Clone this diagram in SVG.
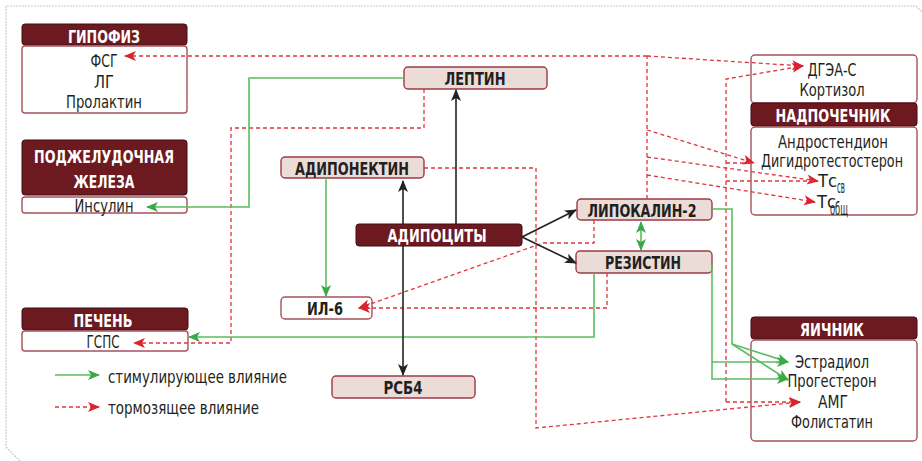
<svg xmlns="http://www.w3.org/2000/svg" width="922" height="461" viewBox="0 0 922 461">
<style>
.frame{fill:none;stroke:#b8b8b8;stroke-width:1.2;stroke-dasharray:1.5 1.5}
.hd{fill:#6c1a20;stroke:#3e0f12;stroke-width:1}
.bd{fill:#fff;stroke:#a5535b;stroke-width:1.4}
.nd{fill:#ebdcd8;stroke:#9b3a44;stroke-width:1.4}
.ht{font-family:'DejaVu Sans Condensed','Liberation Sans',sans-serif;font-weight:bold;font-size:18px;fill:#fff;text-anchor:middle}
.nt{font-family:'DejaVu Sans Condensed','Liberation Sans',sans-serif;font-weight:bold;font-size:18px;fill:#231f20;text-anchor:middle}
.tt{font-family:'DejaVu Sans Condensed','Liberation Sans',sans-serif;font-size:17px;fill:#231f20;text-anchor:middle}
.lt{font-family:'DejaVu Sans Condensed','Liberation Sans',sans-serif;font-size:17px;fill:#231f20}
.bk{fill:none;stroke:#222;stroke-width:1.6}
.gr{fill:none;stroke:#5cbd60;stroke-width:1.6}
.rd{fill:none;stroke:#e0343c;stroke-width:1.3;stroke-dasharray:4 3}
</style>
<defs>
<marker id="ab" viewBox="0 0 12 10" refX="11" refY="5" markerWidth="12" markerHeight="10" markerUnits="userSpaceOnUse" orient="auto-start-reverse"><path d="M0,0 L12,5 L0,10 L3,5 z" fill="#222"/></marker>
<marker id="ag" viewBox="0 0 12 10" refX="11" refY="5" markerWidth="13" markerHeight="10" markerUnits="userSpaceOnUse" orient="auto-start-reverse"><path d="M0,0 L12,5 L0,10 L3,5 z" fill="#3aaa48"/></marker>
<marker id="ar" viewBox="0 0 12 10" refX="11" refY="5" markerWidth="13" markerHeight="10" markerUnits="userSpaceOnUse" orient="auto-start-reverse"><path d="M0,0 L12,5 L0,10 L3,5 z" fill="#d9242d"/></marker>
</defs>
<path class="frame" d="M20,461 L6,447 L6,6 L916,6 L922,12"/>

<g id="gipofiz">
<rect class="hd" x="22" y="24" width="165" height="21" rx="3"/>
<rect class="bd" x="22" y="46" width="165" height="67" rx="3"/>
<text class="ht" x="104" y="43" textLength="72" lengthAdjust="spacingAndGlyphs">ГИПОФИЗ</text>
<text class="tt" x="104" y="67" textLength="27" lengthAdjust="spacingAndGlyphs">ФСГ</text>
<text class="tt" x="104" y="88" textLength="20" lengthAdjust="spacingAndGlyphs">ЛГ</text>
<text class="tt" x="104" y="108" textLength="76" lengthAdjust="spacingAndGlyphs">Пролактин</text>
</g>

<g id="pancreas">
<rect class="hd" x="22" y="140" width="165" height="55" rx="3"/>
<rect class="bd" x="22" y="197" width="165" height="16" rx="3"/>
<text class="ht" x="104" y="163" textLength="140" lengthAdjust="spacingAndGlyphs">ПОДЖЕЛУДОЧНАЯ</text>
<text class="ht" x="104" y="188" textLength="61" lengthAdjust="spacingAndGlyphs">ЖЕЛЕЗА</text>
<text class="tt" x="104" y="212" textLength="59" lengthAdjust="spacingAndGlyphs">Инсулин</text>
</g>

<g id="liver">
<rect class="hd" x="22" y="308" width="166" height="22" rx="3"/>
<rect class="bd" x="22" y="331" width="166" height="20" rx="3"/>
<text class="ht" x="103" y="327" textLength="59" lengthAdjust="spacingAndGlyphs">ПЕЧЕНЬ</text>
<text class="tt" x="103" y="348" textLength="33" lengthAdjust="spacingAndGlyphs">ГСПС</text>
</g>

<g id="legend">
<text class="lt" x="108" y="383" textLength="179" lengthAdjust="spacingAndGlyphs">стимулирующее влияние</text>
<text class="lt" x="108" y="414" textLength="151" lengthAdjust="spacingAndGlyphs">тормозящее влияние</text>
</g>

<g id="leptin">
<rect class="nd" x="404" y="67" width="143" height="22" rx="4"/>
<text class="nt" x="475" y="85" textLength="61" lengthAdjust="spacingAndGlyphs">ЛЕПТИН</text>
</g>

<g id="adiponectin">
<rect class="nd" x="281" y="157" width="143" height="21" rx="4"/>
<text class="nt" x="352" y="175" textLength="114" lengthAdjust="spacingAndGlyphs">АДИПОНЕКТИН</text>
</g>

<g id="adipocytes">
<rect class="hd" x="356" y="224" width="166" height="22" rx="3"/>
<text class="ht" x="437" y="242" textLength="99" lengthAdjust="spacingAndGlyphs">АДИПОЦИТЫ</text>
</g>

<g id="lipocalin">
<rect class="nd" x="577" y="199" width="135" height="21" rx="4"/>
<text class="nt" x="642" y="217" textLength="109" lengthAdjust="spacingAndGlyphs">ЛИПОКАЛИН-2</text>
</g>

<g id="resistin">
<rect class="nd" x="576" y="251" width="136" height="22" rx="4"/>
<text class="nt" x="643" y="269" textLength="76" lengthAdjust="spacingAndGlyphs">РЕЗИСТИН</text>
</g>

<g id="il6">
<rect class="bd" x="281" y="297" width="91" height="22" rx="4"/>
<text class="nt" x="325" y="315" textLength="36" lengthAdjust="spacingAndGlyphs">ИЛ-6</text>
</g>

<g id="rsb4">
<rect class="nd" x="332" y="376" width="143" height="22" rx="4"/>
<text class="nt" x="403" y="394" textLength="39" lengthAdjust="spacingAndGlyphs">РСБ4</text>
</g>

<g id="adrenal">
<rect class="bd" x="751" y="55" width="166" height="48" rx="4"/>
<rect class="hd" x="751" y="103" width="166" height="23" rx="3"/>
<rect class="bd" x="751" y="127" width="166" height="88" rx="4"/>
<text class="tt" x="832" y="76" font-size="16" textLength="49" lengthAdjust="spacingAndGlyphs">ДГЭА-С</text>
<text class="tt" x="832" y="96" font-size="16" textLength="65" lengthAdjust="spacingAndGlyphs">Кортизол</text>
<text class="ht" x="833" y="122" textLength="115" lengthAdjust="spacingAndGlyphs">НАДПОЧЕЧНИК</text>
<text class="tt" x="833" y="148" textLength="110" lengthAdjust="spacingAndGlyphs">Андростендион</text>
<text class="tt" x="832" y="167" textLength="142" lengthAdjust="spacingAndGlyphs">Дигидротестостерон</text>
<text class="lt" x="818" y="187" textLength="19" lengthAdjust="spacingAndGlyphs">Тс</text>
<text class="lt" x="837" y="193" font-size="9" textLength="8" lengthAdjust="spacingAndGlyphs">св</text>
<text class="lt" x="817" y="208" font-size="16" textLength="19" lengthAdjust="spacingAndGlyphs">Тс</text>
<text class="lt" x="830" y="215" font-size="9" textLength="18" lengthAdjust="spacingAndGlyphs">общ</text>
</g>

<g id="ovary">
<rect class="hd" x="751" y="317" width="166" height="22" rx="3"/>
<rect class="bd" x="751" y="340" width="166" height="101" rx="4"/>
<text class="ht" x="832" y="336" textLength="64" lengthAdjust="spacingAndGlyphs">ЯИЧНИК</text>
<text class="tt" x="832" y="368" textLength="74" lengthAdjust="spacingAndGlyphs">Эстрадиол</text>
<text class="tt" x="832" y="387" textLength="89" lengthAdjust="spacingAndGlyphs">Прогестерон</text>
<text class="tt" x="833" y="408" textLength="30" lengthAdjust="spacingAndGlyphs">АМГ</text>
<text class="tt" x="832" y="428" textLength="82" lengthAdjust="spacingAndGlyphs">Фолистатин</text>
</g>

<g id="connectors">
<!-- red dashed -->
<path class="rd" d="M647,199 V56"/>
<path class="rd" d="M647,56 H125" marker-end="url(#ar)"/>
<path class="rd" d="M647,56 L803,66" marker-end="url(#ar)"/>
<path class="rd" d="M726,402 V79 L803,66" marker-end="url(#ar)"/>
<path class="rd" d="M647,130 L754,163" marker-end="url(#ar)"/>
<path class="rd" d="M726,163 H754"/>
<path class="rd" d="M647,157 L818,181" marker-end="url(#ar)"/>
<path class="rd" d="M726,181 H818"/>
<path class="rd" d="M647,175 L815,202" marker-end="url(#ar)"/>
<path class="rd" d="M726,402 H800" marker-end="url(#ar)"/>
<path class="rd" d="M424,168 H536 V428 L800,402" marker-end="url(#ar)"/>
<path class="rd" d="M424,89 V128 H231 V343 H134" marker-end="url(#ar)"/>
<path class="rd" d="M594,220 V243 H543 L359,308" marker-end="url(#ar)"/>
<path class="rd" d="M607,273 V308 H359" marker-end="url(#ar)"/>
<!-- green -->
<path class="gr" d="M404,78 H249 V207 H147" marker-end="url(#ag)"/>
<path class="gr" d="M326,178 V296" marker-end="url(#ag)"/>
<path class="gr" d="M594,273 V337 H189" marker-end="url(#ag)"/>
<path class="gr" d="M641,222 V250" marker-start="url(#ag)" marker-end="url(#ag)"/>
<path class="gr" d="M712,209 H732 V344 L788,362" marker-end="url(#ag)"/>
<path class="gr" d="M732,344 L788,380" marker-end="url(#ag)"/>
<path class="gr" d="M712,263 V379 H788" marker-end="url(#ag)"/>
<path class="gr" d="M712,362 H788" marker-end="url(#ag)"/>
<!-- black -->
<path class="bk" d="M456,224 V90" stroke="#5a5a5a" marker-end="url(#ab)"/>
<path class="bk" d="M403,224 V181" marker-end="url(#ab)"/>
<path class="bk" d="M403,246 V375" marker-end="url(#ab)"/>
<path class="bk" d="M522,237 L576,210" marker-end="url(#ab)"/>
<path class="bk" d="M522,237 L576,263" marker-end="url(#ab)"/>
<!-- legend -->
<path class="gr" d="M55,375 H99" marker-end="url(#ag)"/>
<path class="rd" d="M55,407 H99" marker-end="url(#ar)"/>
</g>
</svg>
